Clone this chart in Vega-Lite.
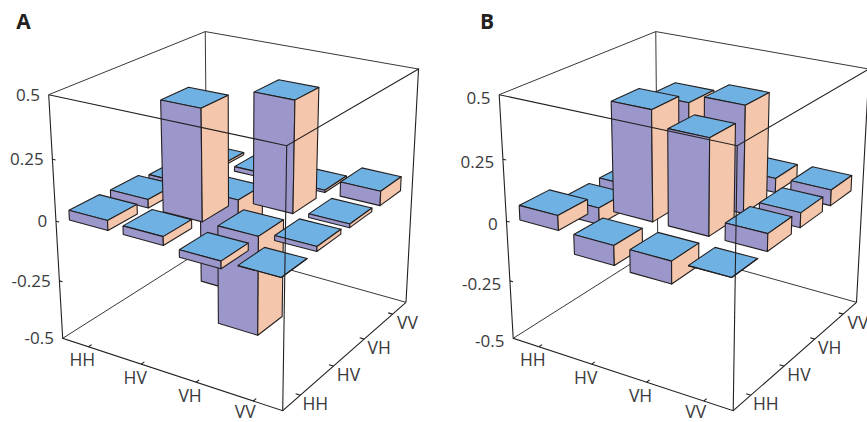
{
"$schema":"https://vega.github.io/schema/vega-lite/v6.json",
"width":867,"height":422,"autosize":{"type":"none"},"padding":0,
"background":"white","config":{"view":{"stroke":null}},
"datasets":{
"bars":[
{"panel":"A","a":"HH","b":"VV","value":0.01},{"panel":"A","a":"HH","b":"VH","value":0.015},{"panel":"A","a":"HH","b":"HV","value":0.035},{"panel":"A","a":"HH","b":"HH","value":0.04},
{"panel":"A","a":"HV","b":"VV","value":0.02},{"panel":"A","a":"HV","b":"VH","value":-0.4},{"panel":"A","a":"HV","b":"HV","value":0.45},{"panel":"A","a":"HV","b":"HH","value":0.035},
{"panel":"A","a":"VH","b":"VV","value":0.01},{"panel":"A","a":"VH","b":"VH","value":0.455},{"panel":"A","a":"VH","b":"HV","value":-0.41},{"panel":"A","a":"VH","b":"HH","value":-0.03},
{"panel":"A","a":"VV","b":"VV","value":0.06},{"panel":"A","a":"VV","b":"VH","value":0.015},{"panel":"A","a":"VV","b":"HV","value":0.02},{"panel":"A","a":"VV","b":"HH","value":0},
{"panel":"B","a":"HH","b":"VV","value":-0.04},{"panel":"B","a":"HH","b":"VH","value":-0.05},{"panel":"B","a":"HH","b":"HV","value":-0.07},{"panel":"B","a":"HH","b":"HH","value":0.06},
{"panel":"B","a":"HV","b":"VV","value":0.04},{"panel":"B","a":"HV","b":"VH","value":0.40},{"panel":"B","a":"HV","b":"HV","value":0.445},{"panel":"B","a":"HV","b":"HH","value":-0.08},
{"panel":"B","a":"VH","b":"VV","value":0.06},{"panel":"B","a":"VH","b":"VH","value":0.435},{"panel":"B","a":"VH","b":"HV","value":0.385},{"panel":"B","a":"VH","b":"HH","value":-0.09},
{"panel":"B","a":"VV","b":"VV","value":0.065},{"panel":"B","a":"VV","b":"VH","value":0.06},{"panel":"B","a":"VV","b":"HV","value":0.07},{"panel":"B","a":"VV","b":"HH","value":0}
],
"edges":[
{"edge":"b1","g":"back","k":0,"u":0,"v":0,"w":0},{"edge":"b1","g":"back","k":1,"u":0,"v":1,"w":0},{"edge":"b1","g":"back","k":2,"u":1,"v":1,"w":0},
{"edge":"b2","g":"back","k":0,"u":0,"v":1,"w":0},{"edge":"b2","g":"back","k":1,"u":0,"v":1,"w":1},
{"edge":"b3","g":"back","k":0,"u":0,"v":0,"w":1},{"edge":"b3","g":"back","k":1,"u":0,"v":1,"w":1},{"edge":"b3","g":"back","k":2,"u":1,"v":1,"w":1},
{"edge":"f1","g":"front","k":0,"u":0,"v":0,"w":1},{"edge":"f1","g":"front","k":1,"u":1,"v":0,"w":1},{"edge":"f1","g":"front","k":2,"u":1,"v":1,"w":1},{"edge":"f1","g":"front","k":3,"u":1,"v":1,"w":0},
{"edge":"f2","g":"front","k":0,"u":1,"v":0,"w":1},{"edge":"f2","g":"front","k":1,"u":1,"v":0,"w":0},
{"edge":"f3","g":"front","k":0,"u":0,"v":0,"w":1},{"edge":"f3","g":"front","k":1,"u":0,"v":0,"w":0},{"edge":"f3","g":"front","k":2,"u":1,"v":0,"w":0},{"edge":"f3","g":"front","k":3,"u":1,"v":1,"w":0},
{"edge":"t1","g":"front","k":0,"u":0.125,"v":0,"w":0},{"edge":"t1","g":"front","k":1,"u":0.125,"v":0.02,"w":0},
{"edge":"t2","g":"front","k":0,"u":0.375,"v":0,"w":0},{"edge":"t2","g":"front","k":1,"u":0.375,"v":0.02,"w":0},
{"edge":"t3","g":"front","k":0,"u":0.625,"v":0,"w":0},{"edge":"t3","g":"front","k":1,"u":0.625,"v":0.02,"w":0},
{"edge":"t4","g":"front","k":0,"u":0.875,"v":0,"w":0},{"edge":"t4","g":"front","k":1,"u":0.875,"v":0.02,"w":0},
{"edge":"t5","g":"front","k":0,"u":1,"v":0.125,"w":0},{"edge":"t5","g":"front","k":1,"u":0.98,"v":0.125,"w":0},
{"edge":"t6","g":"front","k":0,"u":1,"v":0.375,"w":0},{"edge":"t6","g":"front","k":1,"u":0.98,"v":0.375,"w":0},
{"edge":"t7","g":"front","k":0,"u":1,"v":0.625,"w":0},{"edge":"t7","g":"front","k":1,"u":0.98,"v":0.625,"w":0},
{"edge":"t8","g":"front","k":0,"u":1,"v":0.875,"w":0},{"edge":"t8","g":"front","k":1,"u":0.98,"v":0.875,"w":0},
{"edge":"t9","g":"front","k":0,"u":0,"v":0,"w":0.25},{"edge":"t9","g":"front","k":1,"u":0.015,"v":0,"w":0.25},
{"edge":"t10","g":"front","k":0,"u":0,"v":0,"w":0.5},{"edge":"t10","g":"front","k":1,"u":0.015,"v":0,"w":0.5},
{"edge":"t11","g":"front","k":0,"u":0,"v":0,"w":0.75},{"edge":"t11","g":"front","k":1,"u":0.015,"v":0,"w":0.75}
],
"labels":[
{"g":"z","label":"-0.5","u":0,"v":0,"w":0},{"g":"z","label":"-0.25","u":0,"v":0,"w":0.25},{"g":"z","label":"0","u":0,"v":0,"w":0.5},{"g":"z","label":"0.25","u":0,"v":0,"w":0.75},{"g":"z","label":"0.5","u":0,"v":0,"w":1},
{"g":"u","label":"HH","u":0.125,"v":0,"w":0},{"g":"u","label":"HV","u":0.375,"v":0,"w":0},{"g":"u","label":"VH","u":0.625,"v":0,"w":0},{"g":"u","label":"VV","u":0.875,"v":0,"w":0},
{"g":"v","label":"HH","u":1,"v":0.125,"w":0},{"g":"v","label":"HV","u":1,"v":0.375,"w":0},{"g":"v","label":"VH","u":1,"v":0.625,"w":0},{"g":"v","label":"VV","u":1,"v":0.875,"w":0}
]
},
"encoding":{
"x":{"field":"X","type":"quantitative","axis":null,"scale":{"domain":[0,867],"nice":false,"zero":false}},
"y":{"field":"Y","type":"quantitative","axis":null,"scale":{"domain":[422,0],"nice":false,"zero":false}}
},
"layer":[
{"data":{"name":"edges"},
"transform":[{"filter":"datum.g=='back'"},{"calculate":"['A','B']","as":"panel"},{"flatten":["panel"]},
{"calculate":"1-0.0759*datum.u+0.1543*datum.v-0.0744*datum.w","as":"den"},
{"calculate":"(62.7+198.55*datum.u+176.58*datum.v-17.62*datum.w)/datum.den+(datum.panel=='A'?0:450.5)","as":"X"},
{"calculate":"(338.3+41.24*datum.u-53.54*datum.v-250.65*datum.w)/datum.den-6*datum.u*datum.w","as":"Y"},
{"calculate":"datum.panel+datum.edge","as":"id"}],
"mark":{"type":"line","stroke":"#231f20","strokeWidth":0.9,"clip":false},
"encoding":{"detail":{"field":"id"},"order":{"field":"k","type":"quantitative"}}},
{"data":{"name":"bars"},
"transform":[
{"calculate":"['top','front','right']","as":"face"},{"flatten":["face"]},
{"calculate":"[0,1,2,3,4]","as":"k"},{"flatten":["k"]},
{"calculate":"datum.k%4","as":"m"},
{"calculate":"datum.face=='right'?0.09:((datum.m==0||datum.m==3)?-0.09:0.09)","as":"du"},
{"calculate":"datum.face=='front'?-0.09:(datum.face=='top'?(datum.m<2?-0.09:0.09):((datum.m==0||datum.m==3)?-0.09:0.09))","as":"dv"},
{"calculate":"(indexof(['HH','HV','VH','VV'],datum.a)+0.5)/4+datum.du","as":"u"},
{"calculate":"(indexof(['HH','HV','VH','VV'],datum.b)+0.5)/4+datum.dv","as":"v"},
{"calculate":"0.5+((datum.face=='top'||datum.m<2)?max(0,datum.value):min(0,datum.value))","as":"w"},
{"calculate":"1-0.0759*datum.u+0.1543*datum.v-0.0744*datum.w","as":"den"},
{"calculate":"(62.7+198.55*datum.u+176.58*datum.v-17.62*datum.w)/datum.den+(datum.panel=='A'?0:450.5)","as":"X"},
{"calculate":"(338.3+41.24*datum.u-53.54*datum.v-250.65*datum.w)/datum.den-6*datum.u*datum.w","as":"Y"},
{"calculate":"datum.panel+datum.a+datum.b+datum.face","as":"id"}],
"mark":{"type":"line","stroke":"#231f20","strokeWidth":1.1,"strokeJoin":"round","clip":false},
"encoding":{"detail":{"field":"id"},"order":{"field":"k","type":"quantitative"},
"fill":{"field":"face","type":"nominal","legend":null,"scale":{"domain":["top","front","right"],"range":["#6fb1e2","#9b97cb","#f4c6ab"]}}}},
{"data":{"name":"edges"},
"transform":[{"filter":"datum.g=='front'"},{"calculate":"['A','B']","as":"panel"},{"flatten":["panel"]},
{"calculate":"1-0.0759*datum.u+0.1543*datum.v-0.0744*datum.w","as":"den"},
{"calculate":"(62.7+198.55*datum.u+176.58*datum.v-17.62*datum.w)/datum.den+(datum.panel=='A'?0:450.5)","as":"X"},
{"calculate":"(338.3+41.24*datum.u-53.54*datum.v-250.65*datum.w)/datum.den-6*datum.u*datum.w","as":"Y"},
{"calculate":"datum.panel+datum.edge","as":"id"}],
"mark":{"type":"line","stroke":"#231f20","strokeWidth":1.1,"clip":false},
"encoding":{"detail":{"field":"id"},"order":{"field":"k","type":"quantitative"}}},
{"data":{"name":"labels"},
"transform":[{"calculate":"['A','B']","as":"panel"},{"flatten":["panel"]},
{"calculate":"1-0.0759*datum.u+0.1543*datum.v-0.0744*datum.w","as":"den"},
{"calculate":"(62.7+198.55*datum.u+176.58*datum.v-17.62*datum.w)/datum.den+(datum.panel=='A'?0:450.5)","as":"X0"},
{"calculate":"(338.3+41.24*datum.u-53.54*datum.v-250.65*datum.w)/datum.den-6*datum.u*datum.w","as":"Y0"},
{"calculate":"datum.X0+(datum.g=='z'?-8.7:(datum.g=='u'?(datum.label=='VV'?-8:-6):15))","as":"X"},
{"calculate":"datum.Y0+(datum.g=='z'?(datum.panel=='A'?1:4):(datum.g=='u'?(datum.label=='VV'?11.5:14.5):10))","as":"Y"}],
"layer":[
{"transform":[{"filter":"datum.g=='z'"}],"mark":{"type":"text","align":"right","baseline":"middle","font":"Open Sans","fontSize":17,"fill":"#3a3a3c"},"encoding":{"text":{"field":"label"}}},
{"transform":[{"filter":"datum.g!='z'"}],"mark":{"type":"text","align":"center","baseline":"middle","font":"Open Sans","fontSize":17.5,"fill":"#3a3a3c"},"encoding":{"text":{"field":"label"}}}
]},
{"data":{"values":[{"X":23.5,"Y":22.5,"label":"A"},{"X":487,"Y":22.5,"label":"B"}]},
"mark":{"type":"text","align":"center","baseline":"middle","font":"Open Sans","fontWeight":"bold","fontSize":21,"fill":"#231f20"},"encoding":{"text":{"field":"label"}}}
]
}
